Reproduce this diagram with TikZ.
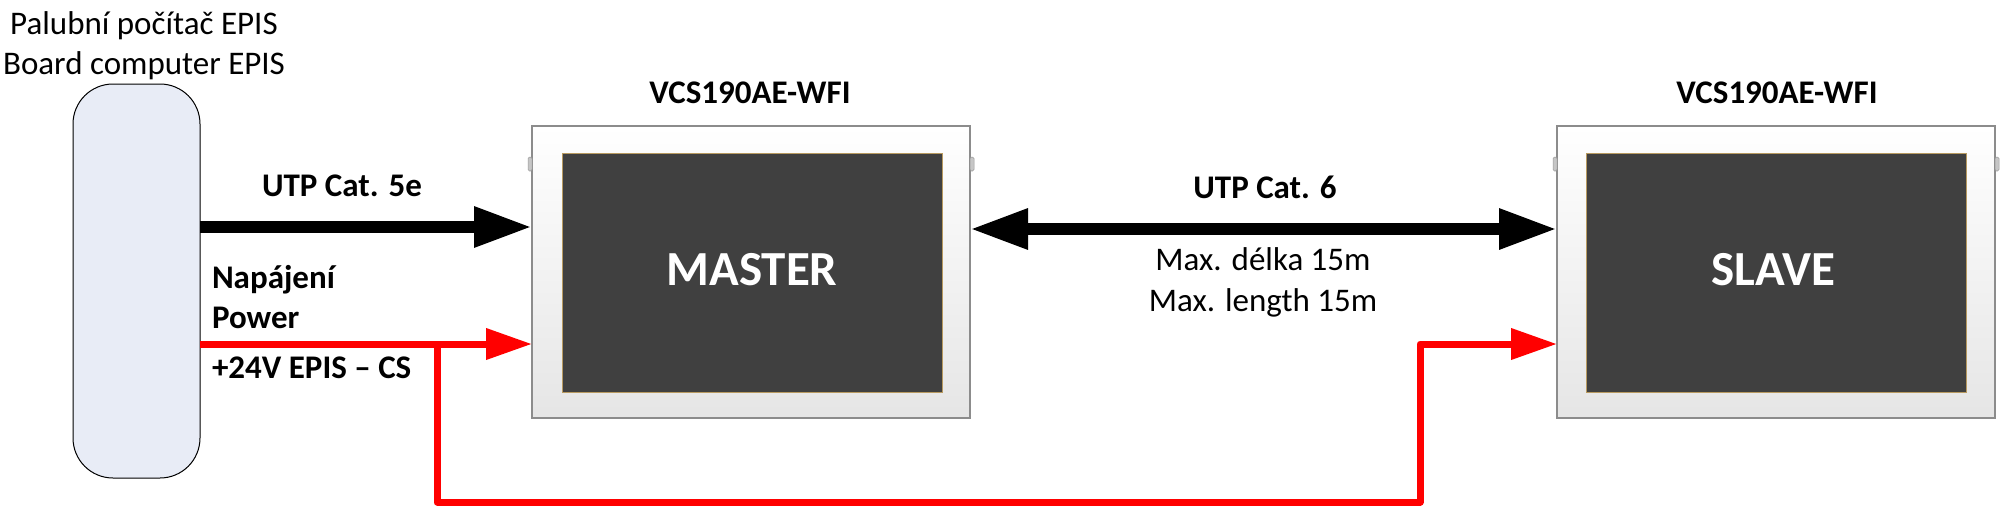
\documentclass[tikz,border=0pt]{standalone}
\usepackage{fontspec}
\setmainfont{Carlito}
\usetikzlibrary{arrows.meta,calc}
\definecolor{screen}{HTML}{404040}
\definecolor{episfill}{HTML}{E8ECF6}
\definecolor{framegray}{HTML}{8C8C8C}
\definecolor{screenedge}{HTML}{B89A60}
\tikzset{
  blackhead/.tip={Triangle[length=58pt,width=38pt]},
  redhead/.tip={Triangle[length=46pt,width=30pt]},
  boldlbl/.style={font={\fontsize{33}{40}\bfseries\selectfont}, anchor=base, inner sep=0pt, outer sep=0pt},
  reglbl/.style={font={\fontsize{33}{40}\selectfont}, anchor=base, inner sep=0pt, outer sep=0pt},
  modellbl/.style={font={\fontsize{33}{40}\bfseries\selectfont}, anchor=base, inner sep=0pt, outer sep=0pt},
  devframe/.style={draw=framegray, line width=1.5pt, top color=white, bottom color=gray!20, minimum width=438pt, minimum height=292pt, inner sep=0pt, outer sep=0pt},
  devscreen/.style={draw=screenedge, line width=0.8pt, fill=screen, minimum width=380pt, minimum height=239pt, inner sep=0pt, outer sep=0pt},
  screenlbl/.style={text=white, font={\fontsize{49}{58}\bfseries\selectfont}, anchor=base, inner sep=0pt, outer sep=0pt},
  episbox/.style={draw=black, line width=1pt, fill=episfill, rounded corners=40pt, minimum width=127pt, minimum height=394pt, inner sep=0pt, outer sep=0pt},
  knob/.style={fill=gray!45, draw=gray!80, line width=0.5pt, rounded corners=1.5pt},
  datacable/.style={line width=12pt, draw=black},
  powercable/.style={line width=7pt, draw=red, line join=round}
}
\begin{document}
\begin{tikzpicture}[x=1pt,y=1pt]
\useasboundingbox (0,0) rectangle (2011,-507);

% board computer
\node[episbox] (epis) at (136.5,-281) {};
\node[reglbl] (t1) at (144,-34) {Palubní počítač EPIS};
\node[reglbl] (t2) at (144,-74) {Board computer EPIS};

% master
\node[devframe] (master) at (751,-272) {};
\node[devscreen] (mscreen) at (752,-272.5) {};
\node[screenlbl] (mtext) at (752,-285) {MASTER};
\node[modellbl] (mmodel) at (750,-103) {VCS190AE-WFI};

% slave
\node[devframe] (slave) at (1776,-272) {};
\node[devscreen] (sscreen) at (1776,-272.5) {};
\node[screenlbl] (stext) at (1773.5,-285) {SLAVE};
\node[modellbl] (smodel) at (1777,-103) {VCS190AE-WFI};

% side knobs
\foreach \xx in {530,972,1555,1997}{
  \draw[knob] (\xx-2,-157) rectangle (\xx+2,-171);
}

% data cable master
\draw[datacable, -{blackhead}] (epis.east |- 0,-227) -- (master.west |- 0,-227);
\node[boldlbl] (utp5) at (342,-196) {UTP Cat. 5e};

% data cable master-slave
\draw[datacable, {blackhead}-{blackhead}] (master.east |- 0,-229) -- (slave.west |- 0,-229);
\node[boldlbl] (utp6) at (1265,-198) {UTP Cat. 6};
\node[reglbl] (len1) at (1263,-270) {Max. délka 15m};
\node[reglbl] (len2) at (1263,-311) {Max. length 15m};

% power
\coordinate (branch) at (437,-344);
\coordinate (bl) at (437,-502);
\coordinate (br) at (1420,-502);
\coordinate (tr) at (1420,-344);
\draw[powercable, -{redhead}] (epis.east |- 0,-344) -- (master.west |- 0,-344);
\draw[powercable, -{redhead}] (branch) -- (bl) -- (br) -- (tr) -- (slave.west |- 0,-344);
\node[boldlbl, anchor=base west] (nap) at (212,-288) {Napájení};
\node[boldlbl, anchor=base west] (pow) at (212,-328) {Power};
\node[boldlbl, anchor=base west] (volt) at (212,-378) {+24V EPIS – CS};
\end{tikzpicture}
\end{document}
